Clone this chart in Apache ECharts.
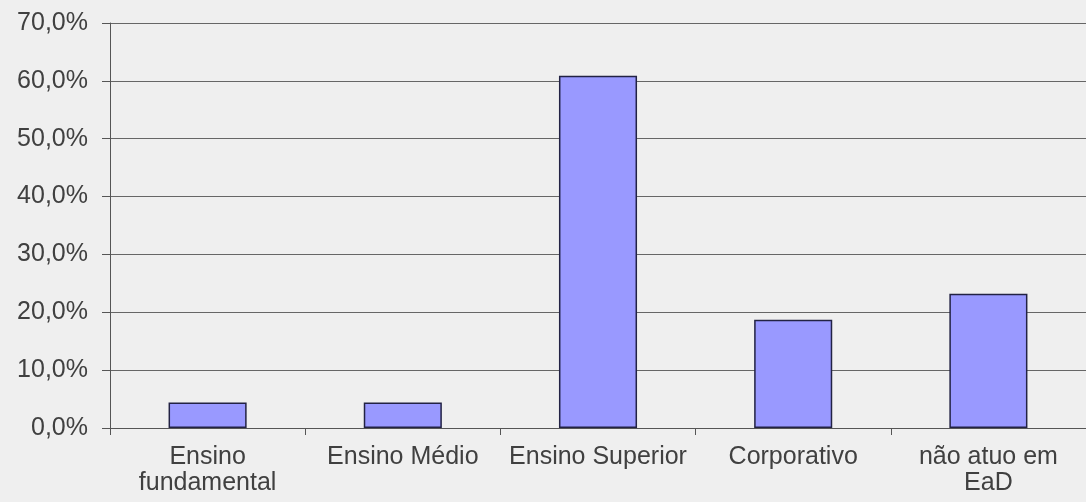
<!DOCTYPE html>
<html><head><meta charset="utf-8">
<script src="https://cdn.jsdelivr.net/npm/echarts@6/dist/echarts.min.js"></script>
<style>html,body{margin:0;padding:0;background:#efefef;}#c{width:1086px;height:502px;}</style>
</head><body><div id="c"></div>
<script>
const categories = ["Ensino\nfundamental", "Ensino Médio", "Ensino Superior", "Corporativo", "não atuo em\nEaD"];
const values = [4.4, 4.4, 60.9, 18.7, 23.2];
const yTicks = {min: 0, max: 70, interval: 10};

const chart = echarts.init(document.getElementById('c'));
chart.setOption({
  backgroundColor: '#efefef',
  animation: false,
  grid: {left: 110, right: 0, top: 23, bottom: 74},
  xAxis: {
    type: 'category', data: categories,
    axisLine: {lineStyle: {color: '#555', width: 1}},
    axisTick: {show: true, alignWithLabel: false, length: 7, lineStyle: {color: '#555'}},
    axisLabel: {color: '#404040', fontFamily: 'Liberation Sans, Arial, sans-serif', fontSize: 25, lineHeight: 26, margin: 16, interval: 0}
  },
  yAxis: {
    type: 'value', min: yTicks.min, max: yTicks.max, interval: yTicks.interval,
    axisLine: {show: true, lineStyle: {color: '#555', width: 1}},
    axisTick: {show: true, length: 8, lineStyle: {color: '#555'}},
    splitLine: {lineStyle: {color: '#666', width: 1}},
    axisLabel: {color: '#404040', fontFamily: 'Liberation Sans, Arial, sans-serif', fontSize: 25, margin: 22,
      formatter: v => v.toFixed(1).replace('.', ',') + '%'}
  },
  series: [{
    type: 'bar', data: values, barWidth: '40%',
    itemStyle: {color: '#9999ff', borderColor: '#222244', borderWidth: 1.5}
  }]
});
</script></body></html>
